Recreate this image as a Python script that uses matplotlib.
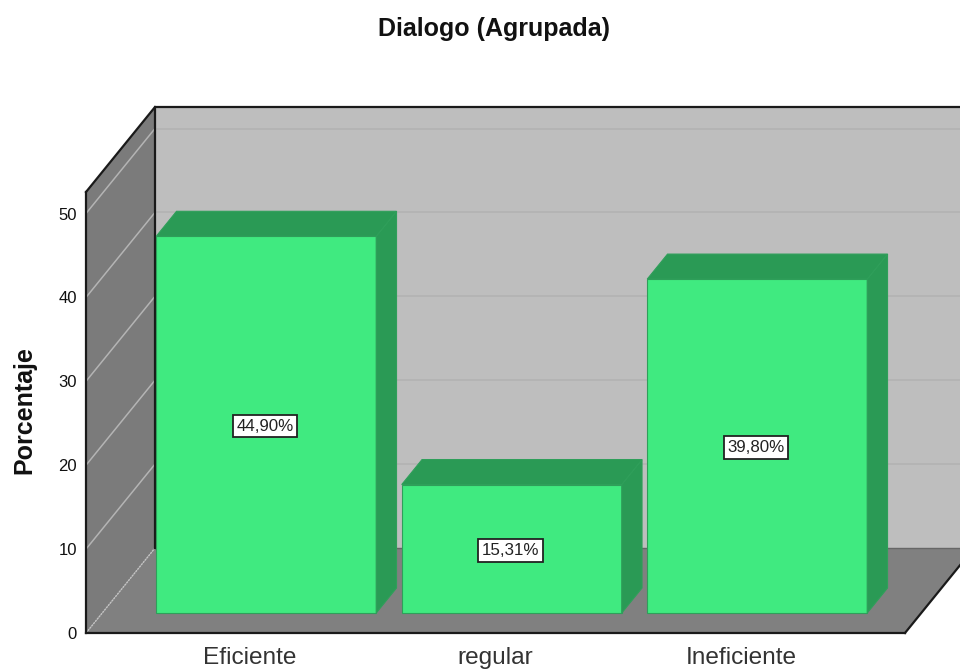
import matplotlib
matplotlib.use("Agg")
import matplotlib.pyplot as plt
from matplotlib.patches import Polygon

plt.rcParams['font.family'] = ['Liberation Sans', 'DejaVu Sans']

categories = ['Eficiente', 'regular', 'Ineficiente']
values = [44.90, 15.31, 39.80]
value_labels = ['44,90%', '15,31%', '39,80%']
yticks = [0, 10, 20, 30, 40, 50]
title = 'Dialogo (Agrupada)'
ylabel = 'Porcentaje'

W, H = 960, 670
PXU = 8.39
fig = plt.figure(figsize=(W / 100, H / 100), dpi=100, facecolor='white')
ax = fig.add_axes([86 / W, (H - 633) / H, (905 - 86) / W, (633 - 192) / H])
ax.set_xlim(-0.668, 2.668)
ax.set_ylim(0, 441 / PXU)
ax.set_facecolor('none')

DX = 69 / 245.5      # full-depth shift, category units
DY = 85 / PXU        # full-depth shift, value units
YTOP = 441 / PXU
XL, XR = -0.668, 2.668


def pr(x, v, d=0.0):
    return (x + d * DX, v + d * DY)


def poly(pts, fc, ec='none', lw=0.0, z=1):
    ax.add_patch(Polygon(pts, closed=True, facecolor=fc, edgecolor=ec, linewidth=lw,
                         zorder=z, clip_on=False, joinstyle='miter'))


# walls and floor
poly([pr(XL, 0, 1), pr(XR, 0, 1), pr(XR, YTOP, 1), pr(XL, YTOP, 1)], '#bebebe')
poly([pr(XL, 0), pr(XL, 0, 1), pr(XL, YTOP, 1), pr(XL, YTOP)], '#7b7b7b')
poly([pr(XL, 0), pr(XR, 0), pr(XR, 0, 1), pr(XL, 0, 1)], '#808080')

# gridlines
for t in yticks[1:]:
    ax.plot(*zip(pr(XL, t), pr(XL, t, 1)), color='#b4b4b4', lw=1.1, zorder=2, clip_on=False)
    ax.plot(*zip(pr(XL, t, 1), pr(XR, t, 1)), color='#b2b2b2', lw=1.1, zorder=2, clip_on=False)

# structure lines
ax.plot(*zip(pr(XL, 0), pr(XL, 0, 1)), color='#c4c4c4', lw=1.0, ls=(0, (1.5, 0.6)), zorder=2, clip_on=False)
ax.plot(*zip(pr(XL, 0, 1), pr(XR, 0, 1)), color='#666666', lw=1.0, zorder=2, clip_on=False)
ax.plot(*zip(pr(XL, 0, 1), pr(XL, YTOP, 1), pr(XR, YTOP, 1)), color='#1a1a1a', lw=1.6, zorder=3, clip_on=False)
ax.plot(*zip(pr(XL, YTOP), pr(XL, YTOP, 1)), color='#1a1a1a', lw=1.6, zorder=3, clip_on=False)
ax.plot(*zip(pr(XR, 0), pr(XR, 0, 1)), color='#1a1a1a', lw=1.6, zorder=3, clip_on=False)

# bars
BW = 220 / 245.5
D0, D1 = 20 / 85, 45 / 85
GREEN, DARK, EDGE = '#40ea80', '#2a9a55', '#2f9f5a'
for i, v in enumerate(values):
    l, r = i - BW / 2, i + BW / 2
    poly([pr(l, 0, D0), pr(r, 0, D0), pr(r, v, D0), pr(l, v, D0)], GREEN, EDGE, 0.8, 4)
    poly([pr(r, 0, D0), pr(r, 0, D1), pr(r, v, D1), pr(r, v, D0)], DARK, EDGE, 0.8, 4)
    poly([pr(l, v, D0), pr(r, v, D0), pr(r, v, D1), pr(l, v, D1)], DARK, EDGE, 0.8, 4)
    cx, cy = pr(i, v / 2, D0)
    ax.text(cx - 0.005, cy, value_labels[i], ha='center', va='center_baseline', fontsize=12.2, color='#222222', zorder=6,
            bbox=dict(boxstyle='square,pad=0.22', facecolor='white', edgecolor='#222222', linewidth=1.3))

ax.set_xticks(range(len(categories)))
ax.set_xticklabels(categories, fontsize=17.6, color='#333333', va='baseline')
ax.set_yticks(yticks)
ax.set_yticklabels([str(t) for t in yticks], fontsize=12, color='#111111')
ax.tick_params(axis='both', length=0)
ax.tick_params(axis='y', pad=6.5)
ax.tick_params(axis='x', pad=22.3)
for s in ('top', 'right'):
    ax.spines[s].set_visible(False)
for s in ('left', 'bottom'):
    ax.spines[s].set_color('#1a1a1a')
    ax.spines[s].set_linewidth(1.6)
    ax.spines[s].set_zorder(5)

fig.text(493.5 / W, 1 - 29 / H, title, ha='center', va='center', fontsize=18, fontweight='bold', color='#111111')
fig.text(24 / W, 1 - 410 / H, ylabel, ha='center', va='center', rotation=90, fontsize=18, fontweight='bold',
         color='#111111')

fig.savefig('out.png', dpi=100)
